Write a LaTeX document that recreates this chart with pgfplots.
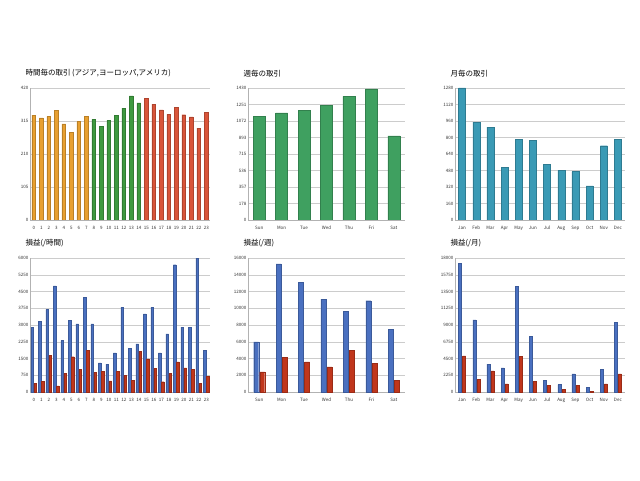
\documentclass[border=0pt]{standalone}
\usepackage{pgfplots}
\pgfplotsset{compat=1.18}
\usepackage{fontspec}
\setmainfont{Noto Sans CJK JP}
\definecolor{cOr}{HTML}{E8A030}
\definecolor{cGr}{HTML}{3E9A40}
\definecolor{cRd}{HTML}{D9553A}
\definecolor{cWk}{HTML}{3FA060}
\definecolor{cMo}{HTML}{3A9AB5}
\definecolor{cBl}{HTML}{4A70C0}
\definecolor{cRe}{HTML}{C0361C}
\pgfplotsset{
 base/.style={scale only axis, anchor=south west, ymin=0,
  axis x line*=bottom, axis y line*=left, axis line style={gray!60},
  ymajorgrids, grid style={gray!40}, tick style={draw=none},
  ticklabel style={font=\fontsize{4.5}{5}\selectfont, text=black!80},
  xticklabel style={yshift=2pt}, yticklabel style={xshift=2pt},
  scaled y ticks=false,
  /pgf/number format/assume math mode=true, /pgf/number format/fixed, /pgf/number format/1000 sep={},
  title style={font=\fontsize{7.5}{8}\selectfont, anchor=south west, at={(0,1)}, xshift=-8pt, yshift=1pt},
  ybar, bar shift=0pt, xtick=data},
}
\begin{document}
\begin{tikzpicture}
\path (0pt,0pt) rectangle (640pt,480pt);
% hourly
\begin{axis}[base, at={(30pt,260pt)}, width=180pt, height=132pt, ymax=420, ytick={0,105,210,315,420},
 xmin=-0.5, xmax=23.5, xtick={0,...,23}, bar width=3.8pt, title={時間毎の取引 (アジア,ヨーロッパ,アメリカ)}]
\addplot[fill=cOr, draw=cOr!80!black] coordinates {(0,334)(1,325)(2,330)(3,348)(4,306)(5,279)(6,313)(7,330)};
\addplot[fill=cGr, draw=cGr!80!black] coordinates {(8,320)(9,297)(10,317)(11,332)(12,356)(13,395)(14,373)};
\addplot[fill=cRd, draw=cRd!80!black] coordinates {(15,386)(16,369)(17,350)(18,336)(19,358)(20,335)(21,328)(22,292)(23,343)};
\end{axis}
\begin{axis}[base, at={(248pt,260pt)}, width=157pt, height=132pt, ymax=1430, ytick={0,178,357,536,715,893,1072,1251,1430},
 xmin=-0.5, xmax=6.5, xticklabels={Sun,Mon,Tue,Wed,Thu,Fri,Sat}, bar width=12pt, title={週毎の取引}]
\addplot[fill=cWk, draw=cWk!80!black] coordinates {(0,1120)(1,1160)(2,1190)(3,1240)(4,1340)(5,1420)(6,910)};
\end{axis}
\begin{axis}[base, at={(455pt,260pt)}, width=170pt, height=132pt, ymax=1280, ytick={0,160,320,480,640,800,960,1120,1280},
 xmin=-0.5, xmax=11.5, xticklabels={Jan,Feb,Mar,Apr,May,Jun,Jul,Aug,Sep,Oct,Nov,Dec}, bar width=7pt, title={月毎の取引}]
\addplot[fill=cMo, draw=cMo!80!black] coordinates {(0,1280)(1,950)(2,900)(3,510)(4,780)(5,770)(6,540)(7,480)(8,470)(9,330)(10,720)(11,780)};
\end{axis}
% P/L
\begin{axis}[base, at={(30pt,88pt)}, width=180pt, height=134pt, ymax=6000, ytick={0,750,1500,2250,3000,3750,4500,5250,6000},
 xmin=-0.5, xmax=23.5, xtick={0,...,23}, bar width=2.6pt, title={損益(/時間)}]
\addplot[fill=cBl, draw=cBl!80!black, bar shift=-1.5pt] coordinates {(0,2900)(1,3150)(2,3700)(3,4750)(4,2300)(5,3200)(6,3050)(7,4250)(8,3050)(9,1300)(10,1250)(11,1750)(12,3800)(13,1950)(14,2150)(15,3500)(16,3800)(17,1750)(18,2600)(19,5700)(20,2900)(21,2900)(22,6000)(23,1850)};
\addplot[fill=cRe, draw=cRe!80!black, bar shift=1.5pt] coordinates {(0,380)(1,470)(2,1650)(3,270)(4,830)(5,1580)(6,1020)(7,1860)(8,880)(9,940)(10,500)(11,940)(12,760)(13,510)(14,1830)(15,1480)(16,1070)(17,460)(18,820)(19,1350)(20,1080)(21,1020)(22,380)(23,700)};
\end{axis}
\begin{axis}[base, at={(248pt,88pt)}, width=157pt, height=134pt, ymax=16000, ytick={0,2000,...,16000},
 xmin=-0.5, xmax=6.5, xticklabels={Sun,Mon,Tue,Wed,Thu,Fri,Sat}, bar width=5pt, title={損益(/週)}]
\addplot[fill=cBl, draw=cBl!80!black, bar shift=-3pt] coordinates {(0,6000)(1,15300)(2,13100)(3,11100)(4,9600)(5,10900)(6,7500)};
\addplot[fill=cRe, draw=cRe!80!black, bar shift=3pt] coordinates {(0,2400)(1,4100)(2,3600)(3,3000)(4,5000)(5,3400)(6,1400)};
\end{axis}
\begin{axis}[base, at={(455pt,88pt)}, width=170pt, height=134pt, ymax=18000, ytick={0,2250,...,18000},
 xmin=-0.5, xmax=11.5, xticklabels={Jan,Feb,Mar,Apr,May,Jun,Jul,Aug,Sep,Oct,Nov,Dec}, bar width=3pt, title={損益(/月)}]
\addplot[fill=cBl, draw=cBl!80!black, bar shift=-2pt] coordinates {(0,17300)(1,9700)(2,3750)(3,3250)(4,14200)(5,7500)(6,1550)(7,1000)(8,2450)(9,600)(10,3000)(11,9400)};
\addplot[fill=cRe, draw=cRe!80!black, bar shift=2pt] coordinates {(0,4850)(1,1700)(2,2850)(3,1100)(4,4750)(5,1450)(6,850)(7,400)(8,900)(9,100)(10,1100)(11,2450)};
\end{axis}
\end{tikzpicture}
\end{document}
